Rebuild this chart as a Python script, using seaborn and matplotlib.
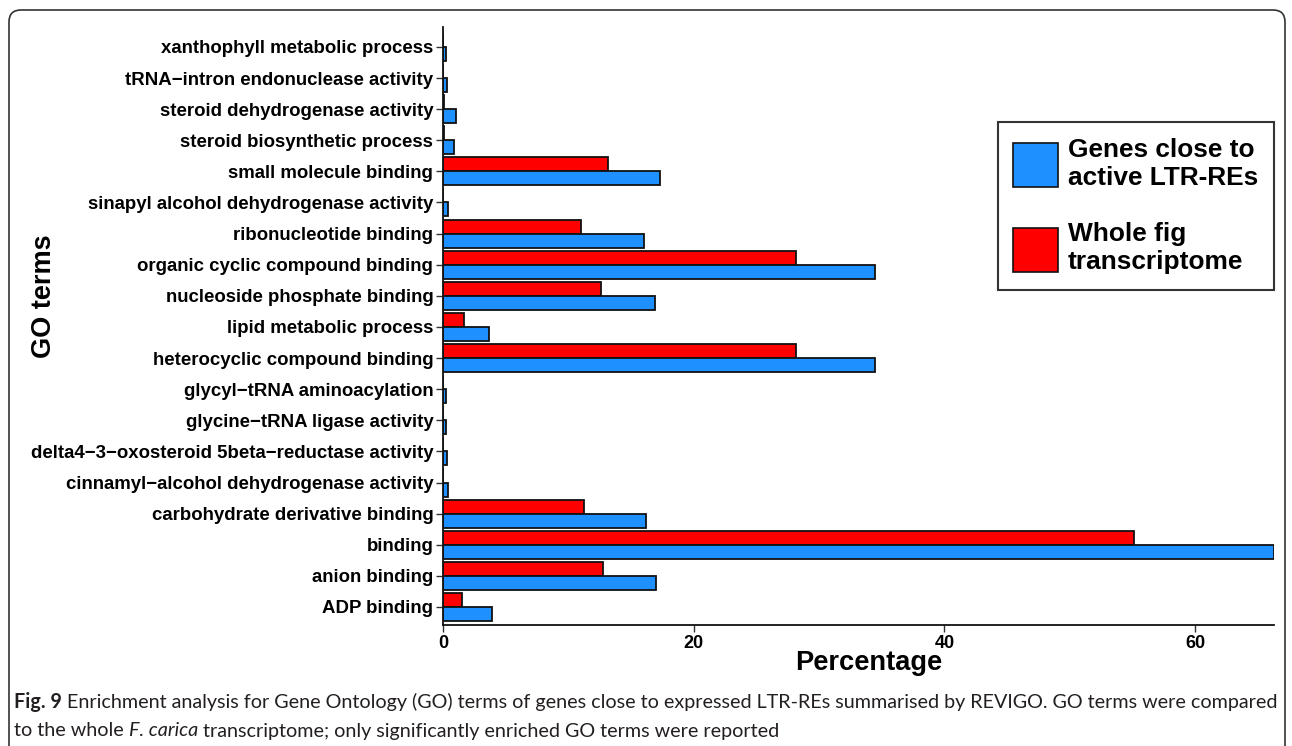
import matplotlib
matplotlib.use("Agg")
import matplotlib.pyplot as plt
from matplotlib.patches import Patch, FancyBboxPatch
import seaborn as sns
import pandas as pd

# GO terms, listed top to bottom as they appear on the axis
terms = [
    "xanthophyll metabolic process",
    "tRNA\u2212intron endonuclease activity",
    "steroid dehydrogenase activity",
    "steroid biosynthetic process",
    "small molecule binding",
    "sinapyl alcohol dehydrogenase activity",
    "ribonucleotide binding",
    "organic cyclic compound binding",
    "nucleoside phosphate binding",
    "lipid metabolic process",
    "heterocyclic compound binding",
    "glycyl\u2212tRNA aminoacylation",
    "glycine\u2212tRNA ligase activity",
    "delta4\u22123\u2212oxosteroid 5beta\u2212reductase activity",
    "cinnamyl\u2212alcohol dehydrogenase activity",
    "carbohydrate derivative binding",
    "binding",
    "anion binding",
    "ADP binding",
]

# Percentage of genes annotated with each term
whole_transcriptome = [0.0, 0.0, 0.1, 0.1, 13.2, 0.0, 11.0, 28.2, 12.6, 1.7,
                       28.2, 0.0, 0.0, 0.0, 0.0, 11.25, 55.1, 12.8, 1.55]
genes_near_ltr = [0.27, 0.3, 1.0, 0.88, 17.3, 0.4, 16.0, 34.5, 16.9, 3.65,
                  34.5, 0.25, 0.25, 0.3, 0.4, 16.2, 66.3, 17.0, 3.9]

series_names = ["Whole fig\ntranscriptome", "Genes close to\nactive LTR-REs"]
series_colors = {"Whole fig\ntranscriptome": "#FF0000",
                 "Genes close to\nactive LTR-REs": "#1E90FF"}
x_ticks = [0, 20, 40, 60]

df = pd.DataFrame({
    "term": terms * 2,
    "pct": whole_transcriptome + genes_near_ltr,
    "set": [series_names[0]] * len(terms) + [series_names[1]] * len(terms),
})

sns.set_style("white")
plt.rcParams["font.family"] = ["Liberation Sans", "DejaVu Sans"]
plt.rcParams["text.color"] = "black"
plt.rcParams["axes.labelcolor"] = "black"
plt.rcParams["xtick.color"] = "black"
plt.rcParams["ytick.color"] = "black"

W, H = 1292, 746
fig = plt.figure(figsize=(W / 100, H / 100), dpi=100)
ax = fig.add_axes([443 / W, 1 - 625 / H, (1274 - 443) / W, (625 - 27) / H])

sns.barplot(data=df, y="term", x="pct", hue="set", order=terms,
            hue_order=series_names, palette=series_colors, orient="h",
            width=0.9, edgecolor="#111111", linewidth=1.3, saturation=1,
            legend=False, ax=ax)

ax.set_xlim(0, max(genes_near_ltr))
ax.set_ylim(len(terms) - 1 + 0.58, -0.64)
ax.set_xticks(x_ticks)
ax.set_xticklabels([str(t) for t in x_ticks], fontsize=13, fontweight="bold")
for lbl in ax.get_yticklabels():
    lbl.set_fontsize(13.4)
    lbl.set_fontweight("bold")

for side in ("top", "right"):
    ax.spines[side].set_visible(False)
for side in ("left", "bottom"):
    ax.spines[side].set_color("#111111")
    ax.spines[side].set_linewidth(1.3)
ax.tick_params(axis="both", direction="out", length=5, width=1, color="#333333",
               left=True, bottom=True, pad=2)

ax.set_xlabel("Percentage", fontsize=19.6, fontweight="bold")
ax.xaxis.set_label_coords((869 - 443) / (1274 - 443), (625 - 663) / (625 - 27))
ax.xaxis.label.set_va("center")
ax.set_ylabel("GO terms", fontsize=19.5, fontweight="bold")
ax.yaxis.set_label_coords((57 - 443) / (1274 - 443), (625 - 296) / (625 - 27))

handles = [Patch(facecolor=series_colors[series_names[1]], edgecolor="#111111",
                 linewidth=1.2, label=series_names[1]),
           Patch(facecolor=series_colors[series_names[0]], edgecolor="#111111",
                 linewidth=1.2, label=series_names[0])]
leg = ax.legend(handles=handles, loc="upper right",
                bbox_to_anchor=(1.0, (625 - 122) / (625 - 27)),
                prop={"weight": "bold", "size": 18.9}, frameon=True, fancybox=False,
                framealpha=1, edgecolor="#333333", handlelength=1.68,
                handleheight=2.2, handletextpad=0.4, labelspacing=1.25,
                borderpad=0.6, borderaxespad=0)
leg.get_frame().set_linewidth(1.5)

# Caption below the chart, laid out piece by piece
cap_size = 14.2
cap_color = "#231f20"
fig.canvas.draw()
renderer = fig.canvas.get_renderer()


def put(x_px, y_px, s, **kw):
    t = fig.text(x_px / W, 1 - y_px / H, s, fontsize=cap_size, family="Lato",
                 color=cap_color, va="center", **kw)
    return t.get_window_extent(renderer).x1


x = put(14, 702, "Fig. 9", fontweight="bold")
put(x, 702, " Enrichment analysis for Gene Ontology (GO) terms of genes close to "
    "expressed LTR-REs summarised by REVIGO. GO terms were compared")
x = put(14, 731, "to the whole ")
x = put(x, 731, "F. carica", style="italic")
put(x, 731, " transcriptome; only significantly enriched GO terms were reported")

# Rounded frame enclosing chart and caption (pixel coordinates)
frame = FancyBboxPatch((9, -30), 1285 - 9, H - 10 + 30,
                       boxstyle="round,pad=0,rounding_size=12",
                       transform=None, facecolor="none",
                       edgecolor="#333333", linewidth=1.2, clip_on=False)
fig.patches.append(frame)

fig.savefig("out.png", dpi=100)
